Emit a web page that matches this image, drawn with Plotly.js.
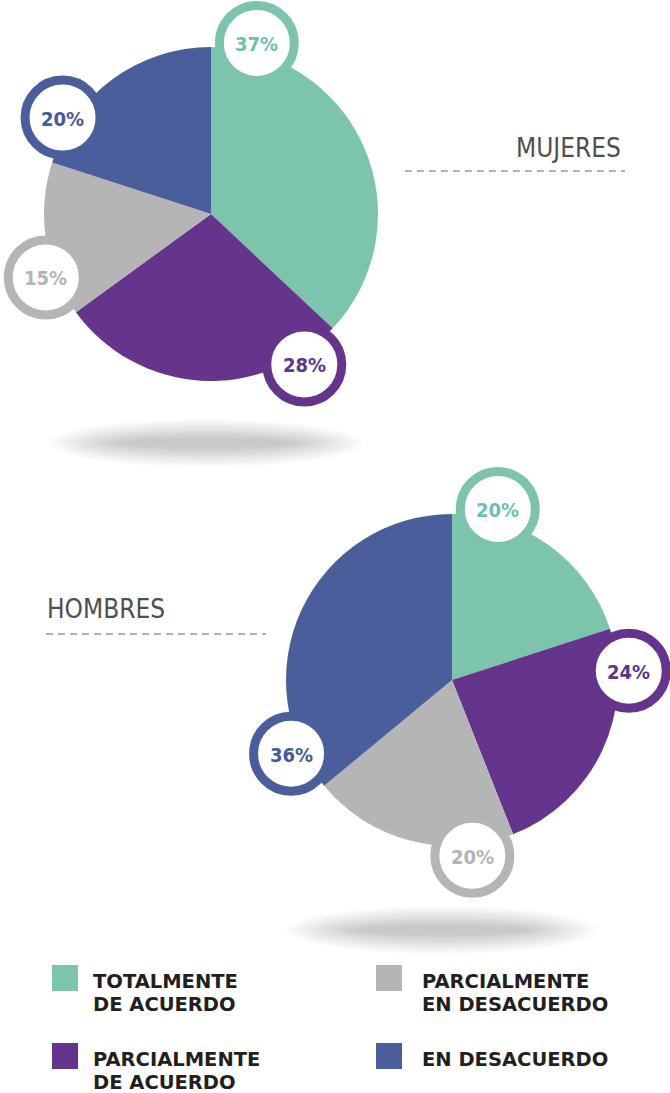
<!DOCTYPE html>
<html>
<head>
<meta charset="utf-8">
<script src="https://cdn.plot.ly/plotly-3.0.1.min.js"></script>
<style>
  html, body { margin: 0; padding: 0; background: #ffffff; }
  #chart { width: 670px; height: 1093px; }
</style>
</head>
<body>
<div id="chart"></div>
<script>
// ---------- DATA ----------
const categories = [
  'TOTALMENTE<br>DE ACUERDO',
  'PARCIALMENTE<br>DE ACUERDO',
  'PARCIALMENTE<br>EN DESACUERDO',
  'EN DESACUERDO'
];
const mujeresValues = [37, 28, 15, 20];
const hombresValues = [20, 24, 20, 36];
const groupTitles = ['MUJERES', 'HOMBRES'];

// ---------- STYLE ----------
const colors = ['#7cc5ac', '#65358d', '#b5b5b5', '#4a5e9b'];
const badgeTextColors = ['#6fbfae', '#5b3590', '#b3b3bb', '#45599c'];
const W = 670, H = 1093;
const pies = [
  { values: mujeresValues, cx: 211, cy: 214, r: 167, shadow: { cx: 206, cy: 443, rx: 158 } },
  { values: hombresValues, cx: 452, cy: 680, r: 166, shadow: { cx: 442, cy: 930, rx: 156 } }
];
const badgeDist = 177, badgeOffsetDeg = 15, badgeR = 42, badgeRing = 9;

const traces = [];
const shapes = [];
const annotations = [];

// hidden cartesian axes in pixel units (for badges / legend)
traces.push({ type: 'scatter', x: [], y: [], hoverinfo: 'skip', showlegend: false });

pies.forEach((p, k) => {
  traces.push({
    type: 'pie',
    values: p.values,
    labels: categories,
    marker: { colors: colors, line: { width: 0 } },
    sort: false,
    direction: 'clockwise',
    rotation: 0,
    textinfo: 'none',
    hoverinfo: 'none',
    showlegend: false,
    domain: {
      x: [(p.cx - p.r) / W, (p.cx + p.r) / W],
      y: [(H - p.cy - p.r) / H, (H - p.cy + p.r) / H]
    }
  });

  // shadow: stacked translucent ellipses (soft falloff)
  const n = 18;
  for (let i = 0; i < n; i++) {
    const t = i / (n - 1);
    const rx = p.shadow.rx - t * 70;
    const ry = 24 - t * 19;
    shapes.push({
      type: 'circle', xref: 'x', yref: 'y', layer: 'below',
      x0: p.shadow.cx - rx, x1: p.shadow.cx + rx,
      y0: p.shadow.cy - ry, y1: p.shadow.cy + ry,
      fillcolor: 'rgba(0,0,0,0.013)', line: { width: 0 }
    });
  }

  // badges
  const total = p.values.reduce((a, b) => a + b, 0);
  let cum = 0;
  p.values.forEach((v, i) => {
    const startDeg = cum / total * 360;
    cum += v;
    const th = (startDeg + badgeOffsetDeg) * Math.PI / 180;
    const bx = p.cx + badgeDist * Math.sin(th);
    const by = p.cy - badgeDist * Math.cos(th);
    const rr = badgeR - badgeRing / 2;
    shapes.push({
      type: 'circle', xref: 'x', yref: 'y', layer: 'above',
      x0: bx - rr, x1: bx + rr, y0: by - rr, y1: by + rr,
      fillcolor: '#ffffff', line: { color: colors[i], width: badgeRing }
    });
    annotations.push({
      xref: 'x', yref: 'y', x: bx, y: by + 1, showarrow: false,
      xanchor: 'center', yanchor: 'middle',
      text: v + '%',
      font: { family: 'DejaVu Sans Condensed, DejaVu Sans', size: 20, weight: 'bold', color: badgeTextColors[i] }
    });
  });
});

// group titles with dashed underline
const titleFont = { family: 'DejaVu Sans Condensed, DejaVu Sans', size: 26, color: '#4f4f4f' };
annotations.push({ xref: 'x', yref: 'y', x: 623, y: 148, xanchor: 'right', yanchor: 'middle',
  showarrow: false, text: groupTitles[0], font: titleFont });
annotations.push({ xref: 'x', yref: 'y', x: 45, y: 609, xanchor: 'left', yanchor: 'middle',
  showarrow: false, text: groupTitles[1], font: titleFont });
shapes.push({ type: 'line', xref: 'x', yref: 'y', x0: 405, x1: 625, y0: 171, y1: 171,
  line: { color: '#9a9a9a', width: 1.5, dash: '7px,5px' } });
shapes.push({ type: 'line', xref: 'x', yref: 'y', x0: 46, x1: 266, y0: 634, y1: 634,
  line: { color: '#9a9a9a', width: 1.5, dash: '7px,5px' } });

// custom legend (2 columns x 2 rows)
const legendPos = [
  { sx: 52, sy: 965, tx: 93 },
  { sx: 52, sy: 1043, tx: 93 },
  { sx: 376, sy: 965, tx: 422 },
  { sx: 376, sy: 1043, tx: 422 }
];
categories.forEach((c, i) => {
  const lp = legendPos[i];
  shapes.push({ type: 'rect', xref: 'x', yref: 'y', x0: lp.sx, x1: lp.sx + 26, y0: lp.sy, y1: lp.sy + 26,
    fillcolor: colors[i], line: { width: 0 } });
  c.split('<br>').forEach((line, j) => {
    annotations.push({ xref: 'x', yref: 'y', x: lp.tx - 2, y: lp.sy + 16 + j * 23.5,
      xanchor: 'left', yanchor: 'middle', showarrow: false, text: line,
      font: { family: 'DejaVu Sans', size: 19.5, weight: 'bold', color: '#231f20' } });
  });
});

const layout = {
  width: W, height: H,
  margin: { l: 0, r: 0, t: 0, b: 0, pad: 0 },
  paper_bgcolor: '#ffffff', plot_bgcolor: 'rgba(0,0,0,0)',
  showlegend: false,
  xaxis: { range: [0, W], visible: false, fixedrange: true },
  yaxis: { range: [H, 0], visible: false, fixedrange: true },
  shapes: shapes,
  annotations: annotations,
  hovermode: false
};

Plotly.newPlot('chart', traces, layout, { displayModeBar: false, staticPlot: true, responsive: false });
</script>
</body>
</html>
